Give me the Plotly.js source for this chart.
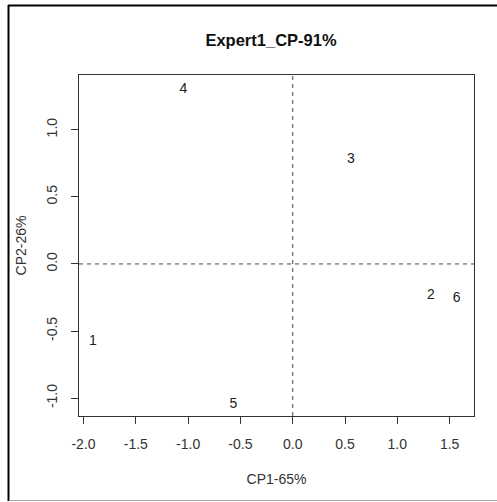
<!DOCTYPE html>
<html>
<head>
<meta charset="utf-8">
<script src="https://cdn.plot.ly/plotly-3.0.1.min.js"></script>
<style>
html,body{margin:0;padding:0;background:#fff;}
#chart{width:497px;height:502px;}
</style>
</head>
<body>
<div id="chart"></div>
<script>
// Data
var labels = ["1", "2", "3", "4", "5", "6"];
var cp1 = [-1.909, 1.322, 0.557, -1.046, -0.568, 1.568];
var cp2 = [-0.575, -0.238, 0.782, 1.303, -1.046, -0.254];
var xTicks = [-2.0, -1.5, -1.0, -0.5, 0.0, 0.5, 1.0, 1.5];
var xTickText = ["-2.0", "-1.5", "-1.0", "-0.5", "0.0", "0.5", "1.0", "1.5"];
var yTicks = [-1.0, -0.5, 0.0, 0.5, 1.0];
var yTickText = ["-1.0", "-0.5", "0.0", "0.5", "1.0"];

var font = "Liberation Sans, Arial, sans-serif";

var trace = {
  x: cp1, y: cp2, text: labels,
  type: "scatter", mode: "text",
  textposition: "middle center",
  textfont: {family: font, size: 14, color: "#222"},
  hoverinfo: "none", showlegend: false
};

var layout = {
  width: 497, height: 502,
  margin: {l: 79, r: 23, t: 75, b: 86, pad: 0},
  paper_bgcolor: "#fff", plot_bgcolor: "#fff",
  font: {family: font, size: 14, color: "#333"},
  title: {
    text: "<b>Expert1_CP-91%</b>",
    font: {family: font, size: 16.5, color: "#111"},
    x: 271/497, xanchor: "center", xref: "container",
    y: 1 - 40/502, yanchor: "middle", yref: "container"
  },
  xaxis: {
    range: [-2.043, 1.733],
    tickmode: "array", tickvals: xTicks, ticktext: xTickText,
    ticks: "outside", ticklen: 7, tickwidth: 1, tickcolor: "#333",
    showline: true, linecolor: "#333", linewidth: 1, mirror: true,
    showgrid: false, zeroline: false,
    tickfont: {family: font, size: 14, color: "#333"},
    ticklabelstandoff: 8,
    title: {text: "CP1-65%", font: {family: font, size: 14, color: "#333"}, standoff: 23},
    automargin: false
  },
  yaxis: {
    range: [-1.133, 1.408],
    tickmode: "array", tickvals: yTicks, ticktext: yTickText,
    tickangle: -90,
    ticks: "outside", ticklen: 7, tickwidth: 1, tickcolor: "#333",
    showline: true, linecolor: "#333", linewidth: 1, mirror: true,
    showgrid: false, zeroline: false,
    tickfont: {family: font, size: 14, color: "#333"},
    ticklabelstandoff: 8,
    title: {text: "CP2-26%", font: {family: font, size: 14, color: "#333"}, standoff: 14},
    automargin: false
  },
  shapes: [
    {type: "line", xref: "x", yref: "paper", x0: 0, x1: 0, y0: 0, y1: 1,
     line: {color: "#444", width: 1, dash: "4px,4px"}},
    {type: "line", xref: "paper", yref: "y", x0: 0, x1: 1, y0: 0, y1: 0,
     line: {color: "#444", width: 1, dash: "4px,4px"}},
    // outer frame
    {type: "line", xref: "paper", yref: "paper", x0: (8 - 79)/395, x1: (497 - 79)/395,
     y0: (416 - 5.5)/341, y1: (416 - 5.5)/341, line: {color: "#000", width: 2}},
    {type: "line", xref: "paper", yref: "paper", x0: (8.5 - 79)/395, x1: (8.5 - 79)/395,
     y0: (416 - 5)/341, y1: (416 - 501)/341, line: {color: "#000", width: 2}},
    {type: "line", xref: "paper", yref: "paper", x0: (9 - 79)/395, x1: (497 - 79)/395,
     y0: (416 - 500.5)/341, y1: (416 - 500.5)/341, line: {color: "#aaa", width: 1}}
  ]
};

Plotly.newPlot("chart", [trace], layout, {displayModeBar: false, staticPlot: true});
</script>
</body>
</html>
